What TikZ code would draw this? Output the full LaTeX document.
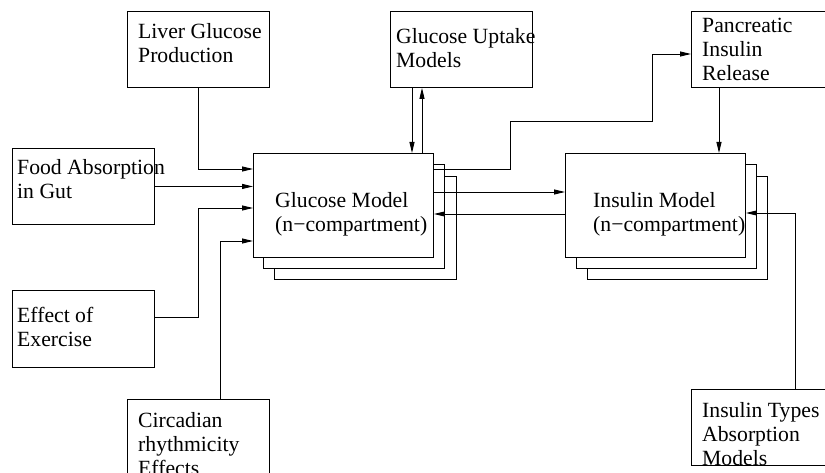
\documentclass[tikz,border=0pt]{standalone}
\usepackage{fontspec}
\setmainfont{Liberation Serif}
\usetikzlibrary{arrows.meta}
\newcommand\boxtext[1]{\begin{tabular}[t]{@{}l@{}}#1\end{tabular}}
\begin{document}
\begin{tikzpicture}[x=1pt,y=-1pt,
  box/.style={draw, line width=0.9pt, fill=white, inner sep=0pt, anchor=north west},
  lbl/.style={anchor=base west, inner sep=0pt, font=\fontsize{21.7}{24}\selectfont},
  link/.style={draw, line width=0.9pt},
  arr/.style={link, -{Triangle[length=11pt,width=5pt]}}]
\clip (0,0) rectangle (825,473);
\fill[white] (0,0) rectangle (825,473);
% side boxes
\node[box, minimum width=142pt, minimum height=76pt] (liver) at (127,11) {};
\node[box, minimum width=142pt, minimum height=76pt] (upt) at (390,11) {};
\node[box, minimum width=142pt, minimum height=76pt] (pancr) at (691,11) {};
\node[box, minimum width=142pt, minimum height=76pt] (food) at (12,148) {};
\node[box, minimum width=142pt, minimum height=77pt] (effect) at (12,290) {};
\node[box, minimum width=142pt, minimum height=100pt] (circ) at (127,399) {};
\node[box, minimum width=142pt, minimum height=76pt] (inst) at (691,389) {};
% stacked model boxes
\node[box, minimum width=182pt, minimum height=103pt] (g3) at (274,176) {};
\node[box, minimum width=181pt, minimum height=104pt] (g2) at (263,164) {};
\node[box, minimum width=180pt, minimum height=104pt] (glucose) at (253,153) {};
\node[box, minimum width=180pt, minimum height=103pt] (i3) at (587,176) {};
\node[box, minimum width=180pt, minimum height=104pt] (i2) at (576,164) {};
\node[box, minimum width=180pt, minimum height=104pt] (insulin) at (565,153) {};
% texts
\node[lbl] (liverT) at (138,39) {\boxtext{Liver Glucose\\Production}};
\node[lbl] (uptT) at (396,44) {\boxtext{Glucose Uptake\\Models}};
\node[lbl] (pancrT) at (702,33) {\boxtext{Pancreatic\\Insulin\\Release}};
\node[lbl] (foodT) at (17,175) {\boxtext{Food Absorption\\in Gut}};
\node[lbl] (effectT) at (17,323) {\boxtext{Effect of\\Exercise}};
\node[lbl] (circT) at (138,427) {\boxtext{Circadian\\rhythmicity\\Effects}};
\node[lbl] (instT) at (702,417) {\boxtext{Insulin Types\\Absorption\\Models}};
\node[lbl] (glucoseT) at (275,208) {\boxtext{Glucose Model\\(n−compartment)}};
\node[lbl] (insulinT) at (593,208) {\boxtext{Insulin Model\\(n−compartment)}};
% connectors
\draw[arr] (liver.south) |- (glucose.west |- 0,169);
\draw[arr] (food.east) -- (glucose.west |- food.east);
\draw[arr] (effect.east |- 0,317) -- (198,317) |- (glucose.west |- 0,208);
\draw[arr] (circ.north -| 220,0) |- (glucose.west |- 0,241);
\draw[arr] (upt.south -| 412,0) -- (glucose.north -| 412,0);
\draw[arr] (glucose.north -| 422,0) -- (upt.south -| 422,0);
\draw[arr] (glucose.east |- 0,169) -| (510,121) -| (652,54) -- (pancr.west |- 0,54);
\draw[arr] (glucose.east |- 0,192) -- (insulin.west |- 0,192);
\draw[arr] (insulin.west |- 0,214) -- (glucose.east |- 0,214);
\draw[arr] (pancr.south -| 719,0) -- (insulin.north -| 719,0);
\draw[arr] (inst.north -| 795,0) |- (insulin.east |- 0,213);
\end{tikzpicture}
\end{document}
